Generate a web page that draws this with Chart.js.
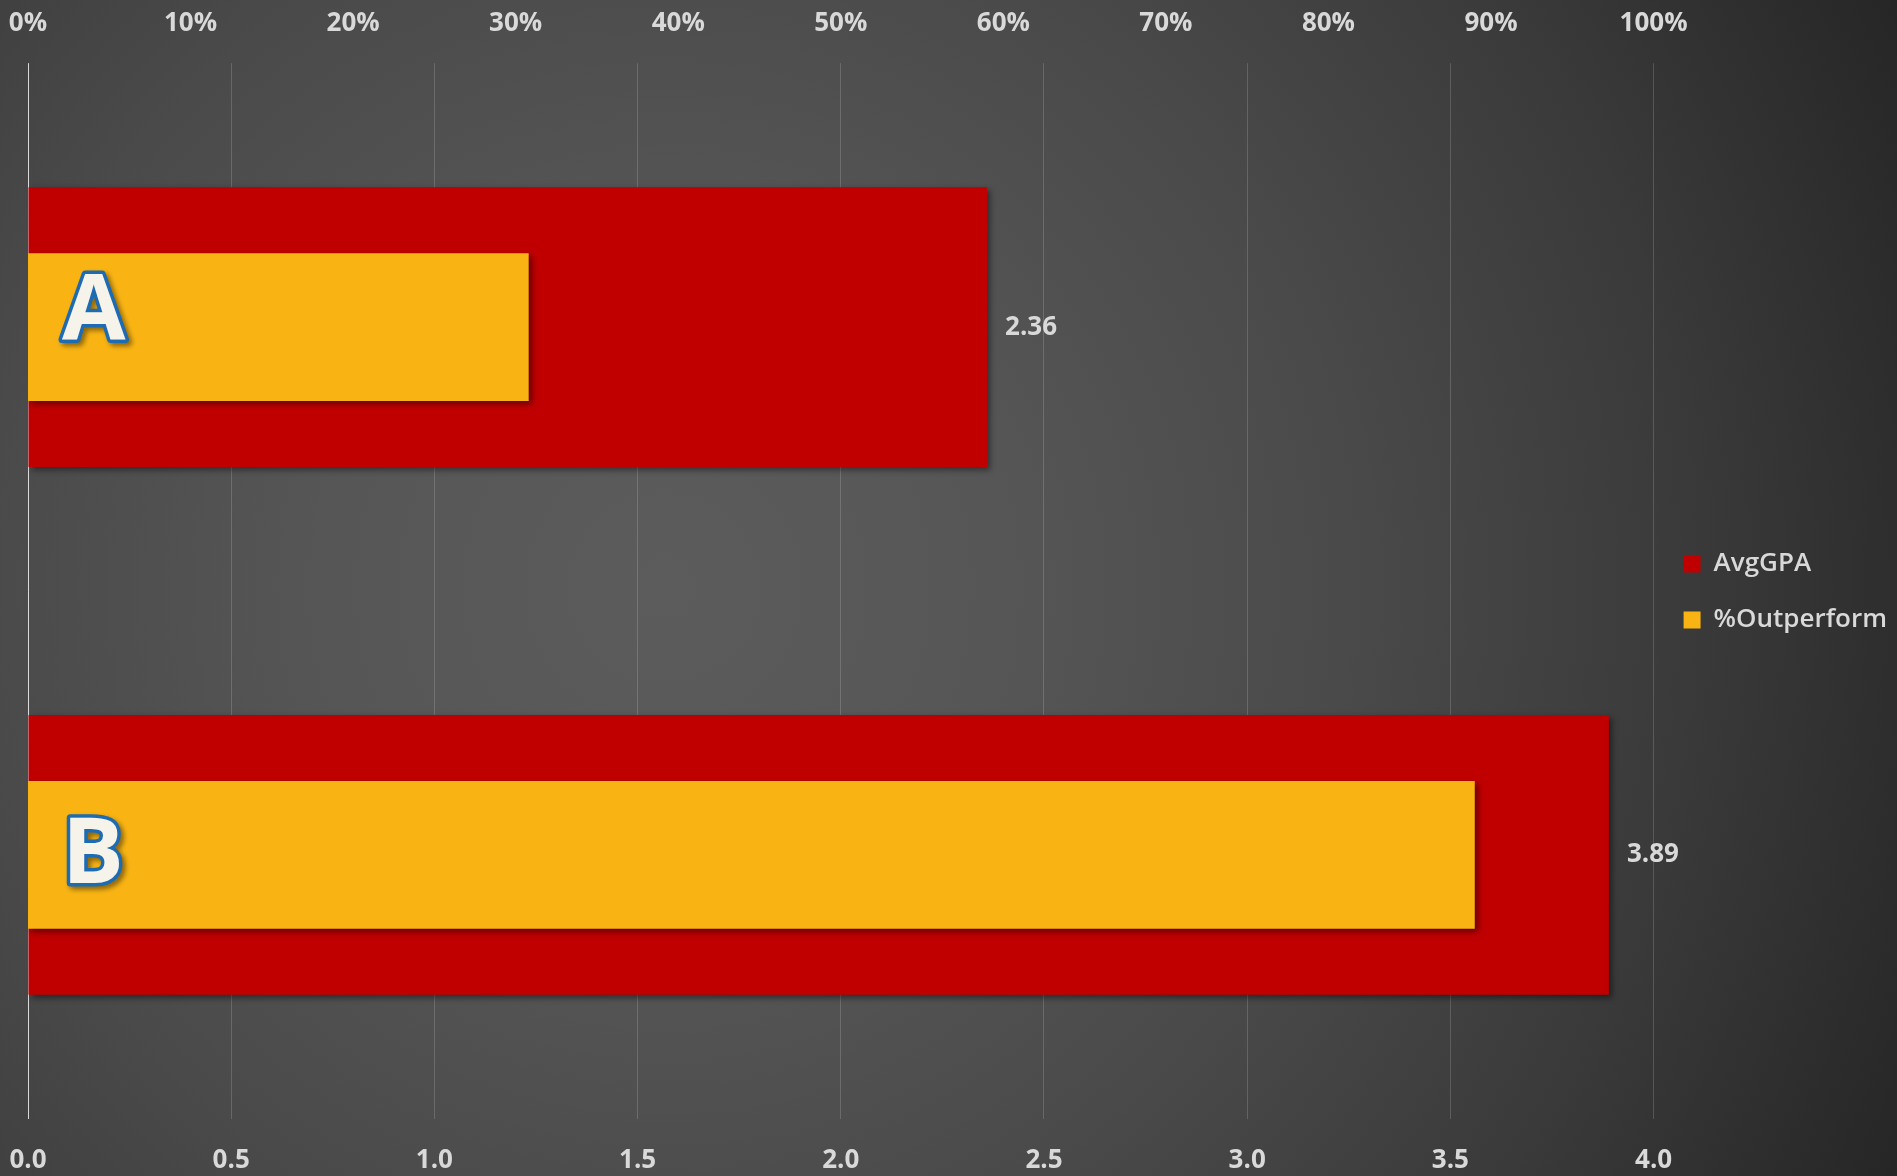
<!DOCTYPE html>
<html>
<head>
<meta charset="utf-8">
<script src="https://cdn.jsdelivr.net/npm/chart.js@4.4.1/dist/chart.umd.min.js"></script>
<style>
  html, body { margin: 0; padding: 0; }
  body {
    width: 1897px; height: 1176px; overflow: hidden;
    background: radial-gradient(circle farthest-corner at 35% 50%, #5c5c5c 0%, #565656 25%, #4a4a4a 50%, #3a3a3a 75%, #262626 100%);
  }
  #wrap { position: relative; width: 1897px; height: 1176px; }
</style>
</head>
<body>
<div id="wrap"><canvas id="gpa-chart"></canvas></div>
<script>
const categories = ['A', 'B'];
const avgGpa = [2.36, 3.89];
const outperform = [0.308, 0.89];
const gpaTicks = ['0.0', '0.5', '1.0', '1.5', '2.0', '2.5', '3.0', '3.5', '4.0'];
const pctTicks = ['0%', '10%', '20%', '30%', '40%', '50%', '60%', '70%', '80%', '90%', '100%'];

const textColor = '#d9d9d9';
const fontFamily = "'Open Sans', 'DejaVu Sans', sans-serif";

// shadows under bars, value labels and the big category letters
const barDecor = {
    id: 'barDecor',
    beforeDatasetsDraw(chart) {
        const ctx = chart.ctx;
        ctx.save();
        ctx.shadowColor = 'rgba(0,0,0,0.45)';
        ctx.shadowBlur = 6;
        ctx.shadowOffsetX = 3;
        ctx.shadowOffsetY = 3;
    },
    afterDatasetsDraw(chart, args, opts) {
        const ctx = chart.ctx;
        ctx.restore();
        const meta = chart.getDatasetMeta(0);
        const yScale = chart.scales.y;
        ctx.save();
        ctx.font = 'bold 26px ' + fontFamily;
        ctx.fillStyle = textColor;
        ctx.textBaseline = 'middle';
        ctx.textAlign = 'left';
        meta.data.forEach((bar, i) => {
            ctx.fillText(avgGpa[i].toFixed(2), bar.x + 18, bar.y);
        });
        ctx.restore();

        ctx.save();
        ctx.font = 'bold 92px ' + fontFamily;
        ctx.textBaseline = 'middle';
        ctx.textAlign = 'left';
        categories.forEach((c, i) => {
            const y = yScale.getPixelForValue(i) + opts.letterShift[i];
            const x = chart.chartArea.left + 34;
            ctx.shadowColor = 'rgba(0,0,0,0.45)';
            ctx.shadowBlur = 5;
            ctx.shadowOffsetX = 3;
            ctx.shadowOffsetY = 3;
            ctx.lineJoin = 'round';
            ctx.lineWidth = 7;
            ctx.strokeStyle = '#1d6bb3';
            ctx.strokeText(c, x, y);
            ctx.shadowColor = 'transparent';
            ctx.fillStyle = '#f6f3ea';
            ctx.fillText(c, x, y);
        });
        ctx.restore();
    }
};

const ctx = document.getElementById('gpa-chart').getContext('2d');
new Chart(ctx, {
    type: 'bar',
    data: {
        labels: categories,
        datasets: [{
            label: 'AvgGPA',
            data: avgGpa,
            xAxisID: 'x',
            backgroundColor: '#c00000',
            borderWidth: 0,
            barPercentage: 0.53,
            categoryPercentage: 1,
            grouped: false,
            order: 1
        }, {
            label: '%Outperform',
            data: outperform,
            xAxisID: 'x2',
            backgroundColor: '#f9b414',
            borderWidth: 0,
            barPercentage: 0.28,
            categoryPercentage: 1,
            grouped: false,
            order: 0
        }]
    },
    options: {
        indexAxis: 'y',
        responsive: true,
        maintainAspectRatio: false,
        animation: false,
        layout: {
            padding: { left: 28, right: 0, top: 8, bottom: 0 }
        },
        plugins: {
            tooltip: { enabled: false },
            barDecor: { letterShift: [-13, 2] },
            legend: {
                position: 'right',
                labels: {
                    boxWidth: 17,
                    boxHeight: 17,
                    padding: 30,
                    color: textColor,
                    font: { family: fontFamily, size: 26, weight: '600' },
                    sort: (a, b) => a.datasetIndex - b.datasetIndex
                }
            }
        },
        scales: {
            y: {
                display: false
            },
            x: {
                position: 'bottom',
                min: 0,
                max: 4,
                afterBuildTicks(axis) {
                    axis.ticks = gpaTicks.map(t => ({ value: parseFloat(t) }));
                },
                grid: {
                    drawTicks: true,
                    tickLength: 26,
                    tickColor: 'transparent',
                    color: c => c.index === 0 ? 'rgba(255,255,255,0.8)' : 'rgba(255,255,255,0.16)',
                    lineWidth: 1
                },
                border: { display: false },
                ticks: {
                    padding: 0,
                    color: textColor,
                    font: { family: fontFamily, size: 26, weight: 'bold' },
                    maxRotation: 0,
                    callback: (v, i) => gpaTicks[i]
                }
            },
            x2: {
                position: 'top',
                min: 0,
                max: 1,
                afterBuildTicks(axis) {
                    axis.ticks = pctTicks.map(t => ({ value: parseFloat(t) / 100 }));
                },
                grid: { display: false, drawTicks: true, tickLength: 24, tickColor: 'transparent' },
                border: { display: false },
                ticks: {
                    padding: 0,
                    color: textColor,
                    font: { family: fontFamily, size: 26, weight: 'bold' },
                    maxRotation: 0,
                    callback: (v, i) => pctTicks[i]
                }
            }
        }
    },
    plugins: [barDecor]
});
</script>
</body>
</html>
